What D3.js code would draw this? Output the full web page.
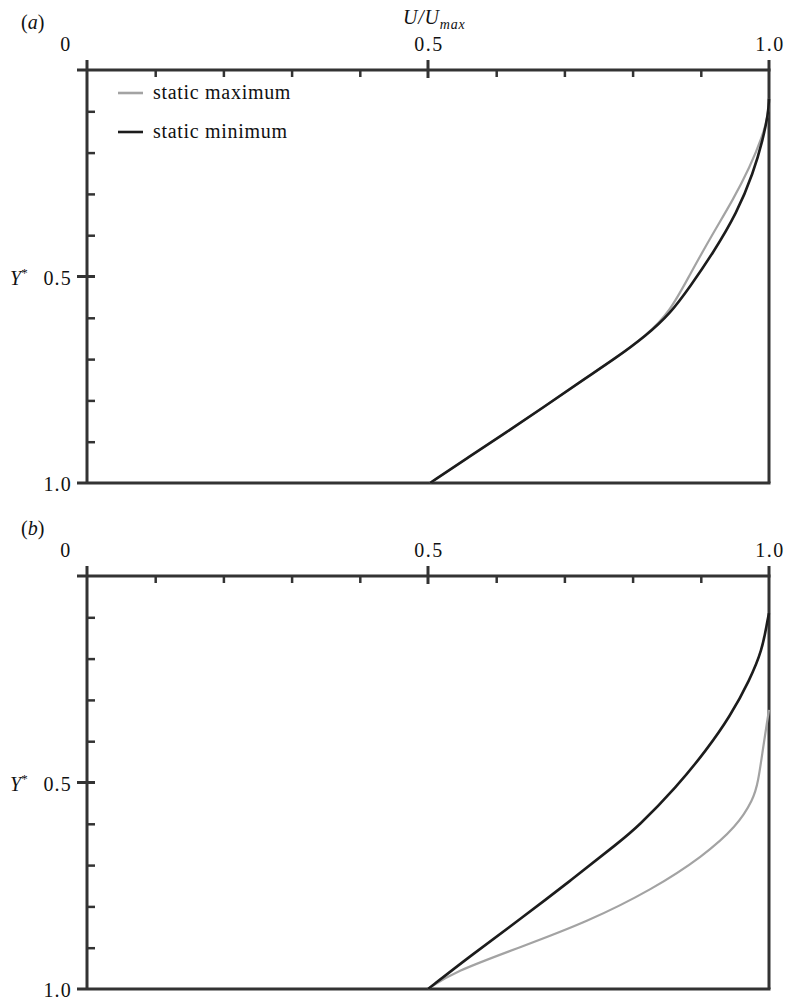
<!DOCTYPE html>
<meta charset="utf-8">
<script src="https://d3js.org/d3.v7.min.js"></script>
<style>
body { margin: 0; background: #fff; }
text { font-family: "Liberation Serif", "DejaVu Serif", serif; font-size: 20px; fill: #111; }
.axisline { stroke: #333; stroke-width: 3px; fill: none; }
.minor line { stroke: #333; stroke-width: 2.5px; }
.curve { fill: none; }
</style>
<body>
<div id="chart"></div>
</body>
<script>

// velocity profiles, U/Umax against Y*
const aMaxU = [0.503, 0.56, 0.615, 0.67, 0.723, 0.775, 0.82, 0.855, 0.884, 0.918, 0.947, 0.972, 0.99, 0.999, 1.0];
const aMaxY = [1.0, 0.937, 0.877, 0.816, 0.755, 0.698, 0.643, 0.585, 0.495, 0.395, 0.315, 0.235, 0.162, 0.11, 0.07];
const aMinU = [0.503, 0.56, 0.615, 0.67, 0.723, 0.775, 0.82, 0.855, 0.884, 0.918, 0.953, 0.977, 0.991, 0.999, 1.0];
const aMinY = [1.0, 0.937, 0.877, 0.816, 0.755, 0.698, 0.643, 0.59, 0.525, 0.443, 0.346, 0.249, 0.169, 0.104, 0.07];

const bMaxU = [0.5, 0.537, 0.635, 0.733, 0.83, 0.903, 0.953, 0.977, 0.984, 0.991, 0.997, 1.0];
const bMaxY = [1.0, 0.959, 0.899, 0.838, 0.758, 0.679, 0.606, 0.541, 0.50, 0.42, 0.355, 0.324];
const bMinU = [0.5, 0.562, 0.635, 0.708, 0.782, 0.806, 0.865, 0.909, 0.943, 0.972, 0.99, 0.997, 1.0];
const bMinY = [1.0, 0.92, 0.831, 0.739, 0.642, 0.610, 0.51, 0.42, 0.34, 0.251, 0.179, 0.114, 0.09];

const xMajor = [0, 0.5, 1.0];
const xLabels = ["0", "0.5", "1.0"];
const yMajor = [0.5, 1.0];
const yLabels = ["0.5", "1.0"];
const minorTicks = [0.1, 0.2, 0.3, 0.4, 0.6, 0.7, 0.8, 0.9];
const legendNames = ["static maximum", "static minimum"];
const colMax = "#a3a3a3", colMin = "#1c1c1c";

const W = 787, H = 1001;
const svg = d3.select("#chart").append("svg")
	.attr("width", W)
	.attr("height", H);

const x = d3.scaleLinear().domain([0, 1]).range([87, 769]);

function zip(us, ys) {
	return us.map((u, i) => ({u: u, y: ys[i]})).sort((a, b) => a.y - b.y);
}

function panel(top, tag, maxU, maxY, minU, minY, showLegend) {
	const bottom = top + 413;
	const y = d3.scaleLinear().domain([0, 1]).range([top, bottom]);
	const g = svg.append("g");

	// minor ticks pointing inward
	g.append("g").attr("class", "minor")
		.attr("transform", `translate(0,${top})`)
		.call(d3.axisTop(x).tickValues(minorTicks).tickSize(-7).tickFormat(""))
		.call(s => s.select(".domain").remove());
	g.append("g").attr("class", "minor")
		.attr("transform", `translate(${x(0)},0)`)
		.call(d3.axisLeft(y).tickValues(minorTicks).tickSize(-8).tickFormat(""))
		.call(s => s.select(".domain").remove());

	// frame
	g.append("line").attr("class", "axisline").attr("x1", x(0) - 10).attr("x2", x(1) + 1.5).attr("y1", top).attr("y2", top);
	g.append("line").attr("class", "axisline").attr("x1", x(0) - 10).attr("x2", x(1) + 1.5).attr("y1", bottom).attr("y2", bottom);
	g.append("line").attr("class", "axisline").attr("x1", x(0)).attr("x2", x(0)).attr("y1", top - 10).attr("y2", bottom);
	g.append("line").attr("class", "axisline").attr("x1", x(1)).attr("x2", x(1)).attr("y1", top - 10).attr("y2", bottom);

	// major ticks at 0.5
	g.append("line").attr("class", "axisline").attr("x1", x(0.5)).attr("x2", x(0.5)).attr("y1", top - 10).attr("y2", top + 8);
	g.append("line").attr("class", "axisline").attr("x1", x(0) - 10).attr("x2", x(0) + 8).attr("y1", y(0.5)).attr("y2", y(0.5));

	// tick labels
	g.selectAll(".xl").data(xMajor).join("text")
		.attr("x", d => d === 0 ? x(d) - 21 : x(d) + 1)
		.attr("y", top - 19)
		.attr("text-anchor", "middle")
		.style("letter-spacing", "1.5px")
		.text((d, i) => xLabels[i]);
	g.selectAll(".yl").data(yMajor).join("text")
		.attr("x", 72)
		.attr("y", d => y(d) + 8)
		.attr("text-anchor", "end")
		.style("letter-spacing", "1.2px")
		.text((d, i) => yLabels[i]);

	// Y* label
	const yl = g.append("text").attr("x", 10).attr("y", y(0.5) + 8).style("font-style", "italic");
	yl.append("tspan").text("Y");
	yl.append("tspan").attr("dy", -8).attr("font-size", "13px").style("font-style", "normal").text("*");

	// panel tag
	const t = g.append("text").attr("x", 21).attr("y", top - 41);
	t.append("tspan").text("(");
	t.append("tspan").style("font-style", "italic").text(tag);
	t.append("tspan").text(")");

	const line = d3.line()
		.x(d => x(d.u))
		.y(d => y(d.y))
		.curve(d3.curveBasis);

	g.append("path").attr("class", "curve")
		.attr("d", line(zip(maxU, maxY)))
		.attr("stroke", colMax).attr("stroke-width", 2.2);
	g.append("path").attr("class", "curve")
		.attr("d", line(zip(minU, minY)))
		.attr("stroke", colMin).attr("stroke-width", 2.6);

	if (showLegend) {
		const lg = g.selectAll(".lg").data(legendNames).join("g")
			.attr("transform", (d, i) => `translate(118,${93 + i * 39})`);
		lg.append("line")
			.attr("x1", 0).attr("x2", 25)
			.attr("stroke", (d, i) => i === 0 ? colMax : colMin)
			.attr("stroke-width", 2.6);
		lg.append("text")
			.attr("x", 35).attr("y", 6)
			.style("letter-spacing", "0.7px")
			.text(d => d);
	}
}

panel(70, "a", aMaxU, aMaxY, aMinU, aMinY, true);
panel(576, "b", bMaxU, bMaxY, bMinU, bMinY, false);

// axis title
const tt = svg.append("text").attr("x", 403).attr("y", 24)
	.style("font-style", "italic").style("letter-spacing", "0.8px");
tt.append("tspan").text("U/U");
tt.append("tspan").attr("dy", 5).attr("font-size", "14px").text("max");

</script>
